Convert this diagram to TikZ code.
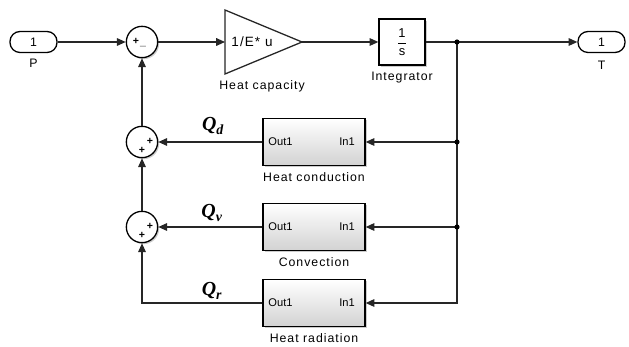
\documentclass[tikz,border=0pt]{standalone}
\usepackage{fontspec}
\setmainfont{Liberation Sans}
\newfontfamily\simfont{Liberation Sans}[LetterSpace=8]
\newfontfamily\qfont{Liberation Serif}
\usetikzlibrary{arrows.meta,shadows,positioning}

\tikzset{
  wire/.style={line width=1.1pt, draw=black!85, -{Triangle[length=7.5pt,width=6.5pt]}},
  line/.style={line width=1.1pt, draw=black!85},
  port/.style={draw, line width=1.1pt, rounded corners=0.3cm, minimum width=1.41cm,
    minimum height=0.63cm, font=\fontsize{10.5}{11}\selectfont},
  sumblk/.style={draw, circle, line width=1.1pt, fill=white, minimum size=0.94cm, inner sep=0pt,
    drop shadow={shadow xshift=1.3pt, shadow yshift=-1.3pt, opacity=0.4}},
  subsys/.style={draw, line width=1.1pt, top color=white, bottom color=gray!35,
    minimum width=3.06cm, minimum height=1.41cm,
    drop shadow={shadow xshift=1.3pt, shadow yshift=-1.3pt, opacity=0.4}},
  integ/.style={draw, line width=1.1pt, fill=white, minimum size=1.38cm, inner sep=0pt,
    drop shadow={shadow xshift=1.3pt, shadow yshift=-1.3pt, opacity=0.4}},
  blklabel/.style={font=\simfont\fontsize{10.5}{11}\selectfont},
  iolabel/.style={font=\fontsize{9.5}{10}\selectfont, inner sep=1pt},
  sgn/.style={font=\bfseries\fontsize{9}{9}\selectfont, inner sep=0pt},
  qlabel/.style={font=\qfont\fontsize{17}{17}\selectfont\bfseries\itshape},
}

\begin{document}
\begin{tikzpicture}[x=0.03cm, y=-0.03cm]
  \useasboundingbox (0,0) rectangle (629,347);

  % ports
  \node[port] (P) at (33.5,42) {1};
  \node[blklabel] (Plab) at (33.5,63) {P};
  \node[port] (T) at (601.5,42) {1};
  \node[blklabel] (Tlab) at (601.5,65) {T};

  % sums
  \node[sumblk] (s1) at (142,42) {};
  \node[sgn] (s1a) at (136,41) {+};
  \node[sgn] (s1b) at (143,46) {\_};
  \node[sumblk] (s2) at (142,142) {};
  \node[sgn] (s2a) at (150,141) {+};
  \node[sgn] (s2b) at (142,150) {+};
  \node[sumblk] (s3) at (142,227) {};
  \node[sgn] (s3a) at (150,226) {+};
  \node[sgn] (s3b) at (142,235) {+};

  % gain
  \coordinate (gin) at (225,42);
  \coordinate (gout) at (302,42);
  \draw[line, fill=white] (225,10) -- (gout) -- (225,74) -- cycle;
  \node[font=\simfont\fontsize{11.5}{12}\selectfont] (gain) at (252,42) {1/E* u};
  \node[blklabel] (glab) at (262,86) {Heat capacity};

  % integrator
  \node[integ, font=\fontsize{11}{12}\selectfont] (int) at (402,42) {$\displaystyle\frac{\textrm{1}}{\textrm{s}}$};
  \node[blklabel, below=2pt of int] (intlab) {Integrator};

  % subsystems
  \node[subsys] (cond) at (314,142) {};
  \node[subsys] (conv) at (314,227) {};
  \node[subsys] (rad) at (314,303) {};
  \foreach \b/\t in {cond/Heat conduction, conv/Convection, rad/Heat radiation}{
    \node[iolabel, right=4pt of \b.west] (\b out) {Out1};
    \node[iolabel, left=8pt of \b.east] (\b in) {In1};
    \node[blklabel, below=2pt of \b] (\b lab) {\t};
  }

  % branch points
  \coordinate (br0) at (457,42);
  \coordinate (br1) at (457,142);
  \coordinate (br2) at (457,227);

  % forward path
  \draw[wire] (P) -- (s1);
  \draw[wire] (s1) -- (gin);
  \draw[wire] (gout) -- (int);
  \draw[wire] (int) -- (T);

  % feedback
  \draw[wire] (br0) |- (rad);
  \draw[wire] (br1) -- (cond);
  \draw[wire] (br2) -- (conv);
  \draw[wire] (cond) -- (s2);
  \draw[wire] (conv) -- (s3);
  \draw[wire] (rad) -| (s3);
  \draw[wire] (s3) -- (s2);
  \draw[wire] (s2) -- (s1);
  \foreach \p in {br0,br1,br2} \fill (\p) circle (2.2pt);

  % heat flows
  \node[qlabel] (qd) at (213,126) {Q\textsubscript{d}};
  \node[qlabel] (qv) at (212,213) {Q\textsubscript{v}};
  \node[qlabel] (qr) at (212,291) {Q\textsubscript{r}};
\end{tikzpicture}
\end{document}
